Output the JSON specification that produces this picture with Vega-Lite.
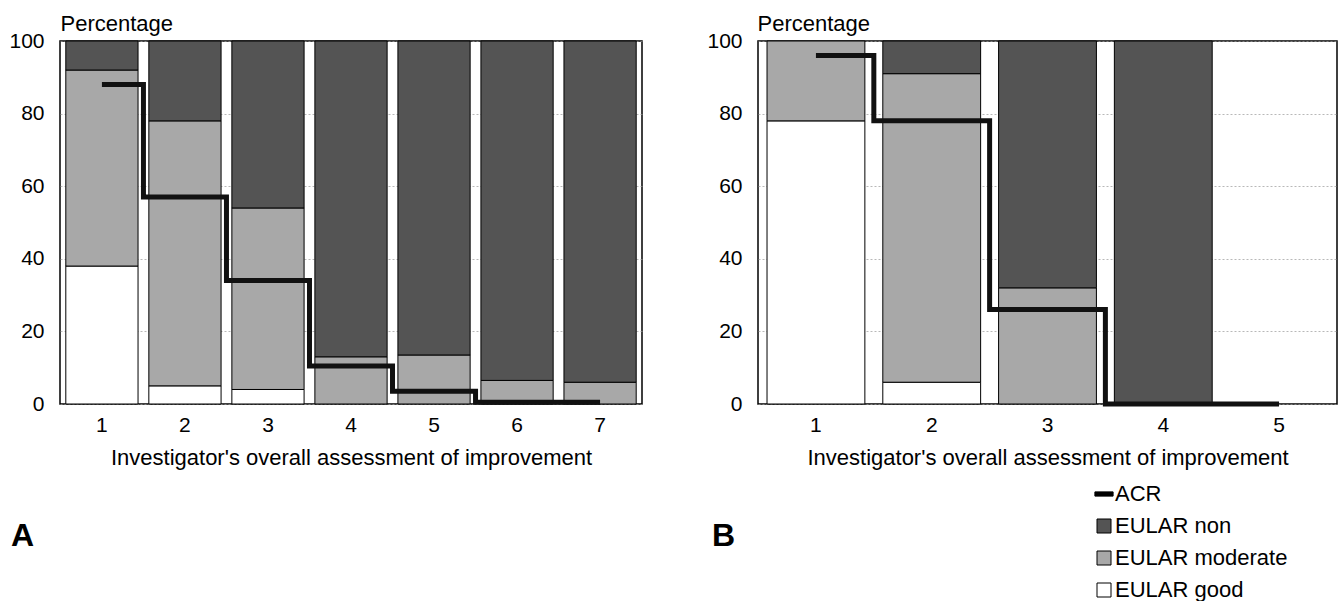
{
  "$schema": "https://vega.github.io/schema/vega-lite/v6.json",
  "padding": {"left": 7, "top": 11, "right": 0, "bottom": 0},
  "background": "white",
  "config": {
    "font": "Liberation Sans",
    "view": {"stroke": "black", "strokeWidth": 1.5},
    "axis": {"labelColor": "black", "titleColor": "black", "labelFont": "Liberation Sans", "titleFont": "Liberation Sans", "domain": false, "ticks": false, "titleFontWeight": "normal", "labelFontSize": 21, "titleFontSize": 22},
    "title": {"font": "Liberation Sans", "color": "black"}
  },
  "datasets": {
    "bars": [
      {"panel": "A", "g": "1", "cat": "EULAR good", "pct": 38},
      {"panel": "A", "g": "1", "cat": "EULAR moderate", "pct": 54},
      {"panel": "A", "g": "1", "cat": "EULAR non", "pct": 8},
      {"panel": "A", "g": "2", "cat": "EULAR good", "pct": 5},
      {"panel": "A", "g": "2", "cat": "EULAR moderate", "pct": 73},
      {"panel": "A", "g": "2", "cat": "EULAR non", "pct": 22},
      {"panel": "A", "g": "3", "cat": "EULAR good", "pct": 4},
      {"panel": "A", "g": "3", "cat": "EULAR moderate", "pct": 50},
      {"panel": "A", "g": "3", "cat": "EULAR non", "pct": 46},
      {"panel": "A", "g": "4", "cat": "EULAR moderate", "pct": 13},
      {"panel": "A", "g": "4", "cat": "EULAR non", "pct": 87},
      {"panel": "A", "g": "5", "cat": "EULAR moderate", "pct": 13.5},
      {"panel": "A", "g": "5", "cat": "EULAR non", "pct": 86.5},
      {"panel": "A", "g": "6", "cat": "EULAR moderate", "pct": 6.5},
      {"panel": "A", "g": "6", "cat": "EULAR non", "pct": 93.5},
      {"panel": "A", "g": "7", "cat": "EULAR moderate", "pct": 6},
      {"panel": "A", "g": "7", "cat": "EULAR non", "pct": 94},
      {"panel": "B", "g": "1", "cat": "EULAR good", "pct": 78},
      {"panel": "B", "g": "1", "cat": "EULAR moderate", "pct": 22},
      {"panel": "B", "g": "2", "cat": "EULAR good", "pct": 6},
      {"panel": "B", "g": "2", "cat": "EULAR moderate", "pct": 85},
      {"panel": "B", "g": "2", "cat": "EULAR non", "pct": 9},
      {"panel": "B", "g": "3", "cat": "EULAR moderate", "pct": 32},
      {"panel": "B", "g": "3", "cat": "EULAR non", "pct": 68},
      {"panel": "B", "g": "4", "cat": "EULAR non", "pct": 100}
    ],
    "acr": [
      {"panel": "A", "g": "1", "acr": 88},
      {"panel": "A", "g": "2", "acr": 57},
      {"panel": "A", "g": "3", "acr": 34},
      {"panel": "A", "g": "4", "acr": 10.5},
      {"panel": "A", "g": "5", "acr": 3.5},
      {"panel": "A", "g": "6", "acr": 0.5},
      {"panel": "A", "g": "7", "acr": 0.5},
      {"panel": "B", "g": "1", "acr": 96},
      {"panel": "B", "g": "2", "acr": 78},
      {"panel": "B", "g": "3", "acr": 26},
      {"panel": "B", "g": "4", "acr": 0},
      {"panel": "B", "g": "5", "acr": 0}
    ]
  },
  "spacing": 62,
  "resolve": {"scale": {"fill": "independent"}, "legend": {"fill": "independent"}},
  "hconcat": [
    {
      "width": 582,
      "height": 363,
      "title": {"text": "A", "orient": "bottom", "anchor": "start", "frame": "group", "dx": -49, "offset": 53, "fontSize": 32, "fontWeight": "bold", "color": "black"},
      "layer": [
        {
          "data": {"name": "bars"},
          "transform": [{"filter": "datum.panel === 'A'"}],
          "mark": {"type": "bar", "stroke": "black", "strokeWidth": 1},
          "encoding": {
            "x": {"field": "g", "type": "ordinal", "title": "Investigator's overall assessment of improvement",
              "scale": {"domain": ["1", "2", "3", "4", "5", "6", "7"], "paddingInner": 0.13, "paddingOuter": 0.07},
              "axis": {"labelAngle": 0, "labelPadding": 10, "titlePadding": 12}},
            "y": {"field": "pct", "type": "quantitative", "stack": "zero", "title": "Percentage",
              "scale": {"domain": [0, 100]},
              "axis": {"titleAngle": 0, "titleAlign": "left", "titleBaseline": "alphabetic", "titleX": 0, "titleY": -10.5, "labelPadding": 16, "minExtent": 52, "maxExtent": 52, "values": [0, 20, 40, 60, 80, 100], "grid": true, "gridColor": "#9a9a9a", "gridDash": [2, 2], "gridWidth": 1, "gridOpacity": 0.7}},
            "fill": {"field": "cat", "type": "nominal",
              "scale": {"domain": ["ACR", "EULAR non", "EULAR moderate", "EULAR good"], "range": ["#000000", "#545454", "#a8a8a8", "#ffffff"]},
              "legend": null},
            "order": {"field": "cat", "sort": "ascending"}
          }
        },
        {
          "data": {"name": "acr"},
          "transform": [{"filter": "datum.panel === 'A'"}],
          "mark": {"type": "line", "interpolate": "step", "color": "#111111", "strokeWidth": 5},
          "encoding": {
            "x": {"field": "g", "type": "ordinal", "title": "Investigator's overall assessment of improvement"},
            "y": {"field": "acr", "type": "quantitative", "title": "Percentage"}
          }
        }
      ]
    },
    {
      "width": 579,
      "height": 363,
      "title": {"text": "B", "orient": "bottom", "anchor": "start", "frame": "group", "dx": -46, "dy": -133, "offset": 53, "fontSize": 32, "fontWeight": "bold", "color": "black"},
      "layer": [
        {
          "data": {"name": "bars"},
          "transform": [{"filter": "datum.panel === 'B'"}],
          "mark": {"type": "bar", "stroke": "black", "strokeWidth": 1},
          "encoding": {
            "x": {"field": "g", "type": "ordinal", "title": "Investigator's overall assessment of improvement",
              "scale": {"domain": ["1", "2", "3", "4", "5"], "paddingInner": 0.155, "paddingOuter": 0.078},
              "axis": {"labelAngle": 0, "labelPadding": 10, "titlePadding": 12}},
            "y": {"field": "pct", "type": "quantitative", "stack": "zero", "title": "Percentage",
              "scale": {"domain": [0, 100]},
              "axis": {"titleAngle": 0, "titleAlign": "left", "titleBaseline": "alphabetic", "titleX": -1, "titleY": -10.5, "labelPadding": 16, "minExtent": 52, "maxExtent": 52, "values": [0, 20, 40, 60, 80, 100], "grid": true, "gridColor": "#9a9a9a", "gridDash": [2, 2], "gridWidth": 1, "gridOpacity": 0.7}},
            "fill": {"field": "cat", "type": "nominal",
              "scale": {"domain": ["ACR", "EULAR non", "EULAR moderate", "EULAR good"], "range": ["#000000", "#545454", "#a8a8a8", "#ffffff"]},
              "legend": {"orient": "none", "legendX": 335, "legendY": 442, "title": null, "direction": "vertical", "symbolType": "square", "symbolSize": 196, "symbolStrokeColor": "black", "symbolStrokeWidth": 1, "symbolOpacity": 1, "labelFontSize": 22, "labelColor": "black", "labelFont": "Liberation Sans", "labelOffset": 0, "labelLimit": 400, "rowPadding": 10, "padding": 0,
                "encode": {"symbols": {"update": {"shape": {"signal": "datum.value === 'ACR' ? 'M-1.3,-0.3H1.3V0.3H-1.3Z' : 'square'"}}}}}},
            "order": {"field": "cat", "sort": "ascending"}
          }
        },
        {
          "data": {"name": "acr"},
          "transform": [{"filter": "datum.panel === 'B'"}],
          "mark": {"type": "line", "interpolate": "step", "color": "#111111", "strokeWidth": 5},
          "encoding": {
            "x": {"field": "g", "type": "ordinal", "title": "Investigator's overall assessment of improvement"},
            "y": {"field": "acr", "type": "quantitative", "title": "Percentage"}
          }
        }
      ]
    }
  ]
}
